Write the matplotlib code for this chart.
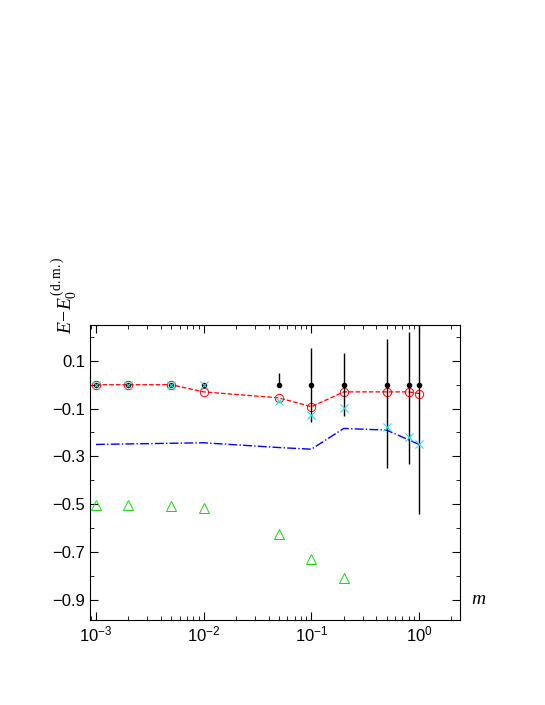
import numpy as np
import matplotlib.pyplot as plt
from matplotlib.ticker import MultipleLocator

m = [0.001, 0.002, 0.005, 0.01, 0.05, 0.1, 0.2, 0.5, 0.8, 1.0]
dots = [0, 0, 0, 0, 0, 0, 0, 0, 0, 0]
err_lo = [0, 0, 0, 0, 0.0, 0.158, 0.133, 0.35, 0.33, 0.54]
err_hi = [0, 0, 0, 0, 0.05, 0.154, 0.133, 0.19, 0.22, 0.5]
circ = [0, 0, 0, -0.03, -0.055, -0.092, -0.03, -0.03, -0.03, -0.037]
cross = [0, 0, 0, 0, -0.07, -0.125, -0.097, -0.175, -0.22, -0.25]
m_line = [0.001, 0.01, 0.05, 0.1, 0.2, 0.5, 1.0]
line = [-0.25, -0.243, -0.263, -0.27, -0.183, -0.19, -0.25]
m_tri = [0.001, 0.002, 0.005, 0.01, 0.05, 0.1, 0.2]
tri = [-0.504, -0.504, -0.508, -0.517, -0.625, -0.73, -0.81]

plt.rcParams['font.family'] = ['Liberation Sans', 'DejaVu Sans']
plt.rcParams['mathtext.fontset'] = 'custom'
plt.rcParams['mathtext.it'] = 'Liberation Serif:italic'
plt.rcParams['mathtext.rm'] = 'Liberation Serif'
fig = plt.figure(figsize=(5.45, 7.05), dpi=100)
ax = fig.add_axes([90/545, 1-620/705, 370/545, 295/705])

ax.errorbar(m, dots, yerr=[err_lo, err_hi], fmt='o', color='black', ms=3,
            elinewidth=1, capsize=0, zorder=3)
ax.plot(m, circ, '--', color='red', lw=0.9, marker='o', mfc='none', ms=6, mew=0.7)
ax.plot(m, cross, 'x', color='#33dddd', ms=6, mew=0.8, zorder=4)
ax.plot(m_line, line, '-.', color='blue', lw=1)
ax.plot(m_tri, tri, '^', color='#22cc22', mfc='none', ms=7, mew=0.7, ls='none')

ax.set_xscale('log')
ax.set_xlim(0.00088, 2.4)
ax.set_ylim(-0.985, 0.25)
ax.set_yticks([0.1, -0.1, -0.3, -0.5, -0.7, -0.9])
ax.yaxis.set_minor_locator(MultipleLocator(0.1))
ax.tick_params(which='both', direction='in', top=True, right=True, labelsize=12)
ax.tick_params(which='major', length=6)
ax.tick_params(which='minor', length=3)

ax.text(-0.07, 0.97, r'$E\!-\!E_0^{\,\mathrm{(d.m.)}}$', transform=ax.transAxes,
        rotation=90, ha='center', va='bottom', fontsize=14)
ax.text(1.03, 0.07, r'$m$', transform=ax.transAxes, ha='left', va='center',
        fontsize=14)

fig.savefig('out.png', dpi=100)
